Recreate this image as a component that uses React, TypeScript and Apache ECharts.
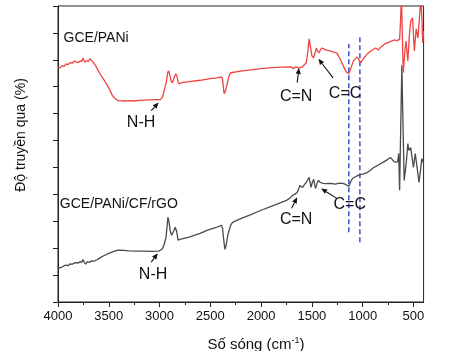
import React, { useEffect, useRef } from 'react';
import * as echarts from 'echarts';

// X axis ticks (cm^-1)
const xTicks = [4000, 3500, 3000, 2500, 2000, 1500, 1000, 500];
const xMinorTicks = [3750, 3250, 2750, 2250, 1750, 1250, 750];

// GCE/PANi spectrum: [wavenumber, transmittance (a.u.)]
const paniWn = [4000, 3980, 3960, 3940, 3920, 3900, 3880, 3860, 3840, 3820, 3800, 3780, 3765, 3755, 3745, 3735, 3718, 3700, 3690, 3682, 3670, 3650, 3630, 3618, 3590, 3555, 3530, 3500, 3480, 3464, 3440, 3409, 3350, 3300, 3250, 3200, 3150, 3100, 3050, 2990, 2970, 2955, 2935, 2918, 2909, 2900, 2885, 2873, 2855, 2840, 2830, 2815, 2809, 2780, 2709, 2600, 2500, 2436, 2391, 2380, 2373, 2364, 2355, 2345, 2320, 2300, 2200, 2100, 2000, 1918, 1800, 1709, 1690, 1682, 1670, 1655, 1640, 1618, 1590, 1555, 1540, 1527, 1515, 1500, 1482, 1465, 1455, 1440, 1427, 1415, 1400, 1360, 1318, 1280, 1255, 1227, 1200, 1182, 1160, 1136, 1115, 1091, 1055, 1035, 1018, 990, 955, 920, 873, 845, 820, 782, 740, 700, 682, 660, 645, 636, 625, 618, 610, 600, 585, 573, 555, 540, 527, 509, 491, 473, 455, 440, 427, 415, 409, 400];
const paniT = [8.72, 8.70, 8.78, 8.76, 8.85, 8.82, 8.90, 8.87, 8.95, 8.92, 8.90, 8.96, 8.93, 9.07, 8.98, 8.92, 8.96, 8.94, 9.02, 9.04, 8.98, 8.89, 8.78, 8.70, 8.50, 8.30, 8.15, 7.95, 7.80, 7.67, 7.57, 7.48, 7.47, 7.48, 7.47, 7.49, 7.50, 7.51, 7.52, 7.52, 7.62, 7.85, 8.15, 8.55, 8.59, 8.45, 8.20, 8.15, 8.35, 8.48, 8.40, 8.15, 8.11, 8.15, 8.19, 8.24, 8.30, 8.33, 8.37, 8.30, 8.04, 7.74, 7.80, 7.93, 8.35, 8.52, 8.58, 8.63, 8.67, 8.70, 8.73, 8.74, 8.70, 8.67, 8.72, 8.74, 8.70, 8.70, 8.75, 8.89, 9.30, 9.78, 9.50, 9.15, 9.07, 9.30, 9.44, 9.30, 9.26, 9.38, 9.44, 9.36, 9.33, 9.28, 9.26, 9.07, 8.85, 8.70, 8.55, 8.48, 8.70, 8.96, 9.11, 9.00, 8.89, 9.05, 9.22, 9.33, 9.44, 9.37, 9.48, 9.59, 9.66, 9.72, 9.74, 9.70, 9.76, 9.74, 10.6, 11.5, 10.0, 8.52, 9.30, 9.70, 8.96, 9.90, 10.44, 10.56, 9.33, 10.15, 9.81, 10.6, 11.3, 10.4, 9.63, 10.07];

// GCE/PANi/CF/rGO spectrum
const rgoWn = [4000, 3980, 3960, 3940, 3918, 3900, 3880, 3860, 3845, 3820, 3800, 3780, 3765, 3755, 3745, 3735, 3727, 3710, 3690, 3670, 3645, 3620, 3591, 3550, 3500, 3450, 3409, 3350, 3300, 3227, 3150, 3080, 3009, 2980, 2964, 2950, 2936, 2925, 2918, 2908, 2895, 2882, 2865, 2845, 2830, 2818, 2800, 2709, 2600, 2527, 2450, 2391, 2380, 2373, 2360, 2355, 2345, 2327, 2300, 2282, 2200, 2100, 2000, 1900, 1800, 1750, 1720, 1691, 1670, 1645, 1630, 1618, 1600, 1591, 1570, 1555, 1540, 1527, 1515, 1509, 1495, 1482, 1472, 1464, 1450, 1436, 1420, 1391, 1360, 1318, 1270, 1230, 1191, 1160, 1136, 1120, 1100, 1060, 1018, 990, 955, 930, 891, 850, 800, 760, 727, 710, 691, 670, 655, 645, 636, 625, 614, 605, 591, 570, 555, 545, 527, 500, 482, 464, 445, 430, 418, 400];
const rgoT = [1.22, 1.28, 1.30, 1.35, 1.37, 1.35, 1.42, 1.40, 1.44, 1.46, 1.45, 1.50, 1.48, 1.58, 1.50, 1.44, 1.41, 1.50, 1.47, 1.53, 1.52, 1.56, 1.63, 1.72, 1.81, 1.88, 1.93, 1.92, 1.90, 1.89, 1.89, 1.88, 1.89, 1.95, 2.04, 2.20, 2.41, 2.85, 3.15, 3.00, 2.65, 2.48, 2.60, 2.78, 2.60, 2.30, 2.33, 2.41, 2.55, 2.67, 2.76, 2.85, 2.75, 2.48, 2.05, 1.96, 2.10, 2.50, 2.85, 2.96, 3.10, 3.25, 3.41, 3.55, 3.70, 3.78, 3.85, 3.96, 4.00, 4.07, 4.20, 4.33, 4.28, 4.26, 4.38, 4.44, 4.55, 4.63, 4.40, 4.26, 4.45, 4.56, 4.35, 4.22, 4.40, 4.52, 4.45, 4.41, 4.40, 4.41, 4.38, 4.42, 4.41, 4.35, 4.30, 4.45, 4.59, 4.68, 4.74, 4.76, 4.81, 4.88, 5.00, 5.08, 5.19, 5.28, 5.37, 5.30, 5.22, 5.20, 5.22, 5.52, 4.15, 6.50, 8.80, 7.00, 4.52, 5.20, 5.89, 5.63, 5.74, 5.00, 5.52, 5.00, 4.44, 4.90, 5.33, 5.15];

// Blue dashed reference lines: wavenumber and [bottom, top] extent
const refLineWn = [1136, 1027];
const refLineRange = [[2.59, 9.59], [2.22, 9.93]];

// Series labels
const seriesNames = ['GCE/PANi', 'GCE/PANi/CF/rGO'];
const seriesNamePos = [[3945, 9.85], [3982, 3.67]];

// Peak annotations: text, label position, arrow tail, arrow tip
const peakTexts = ['N-H', 'C=N', 'C=C', 'N-H', 'C=N', 'C=C'];
const peakLabelPos = [[3182, 6.70], [1655, 7.67], [1173, 7.78], [3064, 1.07], [1655, 3.11], [1127, 3.67]];
const arrowTail = [[3082, 7.11], [1645, 8.15], [1291, 8.33], [3082, 1.48], [1700, 3.48], [1255, 3.85]];
const arrowTip = [[3009, 7.41], [1627, 8.70], [1436, 9.04], [3018, 1.81], [1645, 3.89], [1409, 4.22]];

const FONT = '"Liberation Sans", Arial, sans-serif';

export default function App() {
  const ref = useRef<HTMLDivElement>(null);
  useEffect(() => {
    if (!ref.current) return;
    const chart = echarts.init(ref.current, undefined, { renderer: 'svg' });
    const pani = paniWn.map((w, i) => [w, paniT[i]]);
    const rgo = rgoWn.map((w, i) => [w, rgoT[i]]);
    const refSeries = refLineWn.map((w, i) => ({
      type: 'line',
      data: [[w, refLineRange[i][0]], [w, refLineRange[i][1]]],
      symbol: 'none',
      silent: true,
      lineStyle: { color: '#1f2fd6', width: 1.3, type: [5, 3] },
      z: 1,
    }));
    chart.setOption({
      animation: false,
      grid: { left: 58, right: 2, top: 6, bottom: 49, show: true, borderColor: '#222', borderWidth: 1, backgroundColor: 'transparent' },
      xAxis: [
        {
          type: 'value', min: 400, max: 4000, inverse: true, position: 'bottom',
          axisLine: { show: true, lineStyle: { color: '#222', width: 1 } },
          axisTick: { show: true, inside: false, length: 5, customValues: xTicks, lineStyle: { color: '#222' } },
          axisLabel: { show: true, customValues: xTicks, formatter: (v: number) => String(v), fontSize: 13, color: '#111', fontFamily: FONT, margin: 7 },
          splitLine: { show: false },
        },
        {
          type: 'value', min: 400, max: 4000, inverse: true, position: 'bottom', gridIndex: 0,
          axisLine: { show: false },
          axisTick: { show: true, inside: false, length: 3, customValues: xMinorTicks, lineStyle: { color: '#222' } },
          axisLabel: { show: false },
          splitLine: { show: false },
        },
      ],
      yAxis: {
        type: 'value', min: 0, max: 11, interval: 1,
        axisLine: { show: true, lineStyle: { color: '#222', width: 1 } },
        axisTick: { show: true, inside: false, length: 5, lineStyle: { color: '#222' } },
        axisLabel: { show: false },
        splitLine: { show: false },
      },
      series: [
        { type: 'line', name: seriesNames[1], data: rgo, symbol: 'none', lineStyle: { color: '#4a4a4a', width: 1.3 }, z: 2 },
        { type: 'line', name: seriesNames[0], data: pani, symbol: 'none', lineStyle: { color: '#f04444', width: 1.3 }, z: 3 },
        ...refSeries,
      ],
    });

    const px = (p: number[]) => chart.convertToPixel({ seriesIndex: 0 }, p) as number[];
    const graphics: any[] = [];
    seriesNames.forEach((name, i) => {
      const p = px(seriesNamePos[i]);
      graphics.push({ type: 'text', x: p[0], y: p[1], z: 10, style: { text: name, fontSize: 14, fontFamily: FONT, fill: '#111', textAlign: 'left', textVerticalAlign: 'middle' } });
    });
    peakTexts.forEach((t, i) => {
      const p = px(peakLabelPos[i]);
      graphics.push({ type: 'text', x: p[0], y: p[1], z: 10, style: { text: t, fontSize: 16, fontFamily: FONT, fill: '#111', textAlign: 'center', textVerticalAlign: 'middle' } });
      const a = px(arrowTail[i]);
      const b = px(arrowTip[i]);
      const dx = b[0] - a[0], dy = b[1] - a[1];
      const len = Math.sqrt(dx * dx + dy * dy) || 1;
      const ux = dx / len, uy = dy / len;
      const hl = 6, hw = 2.6;
      const bx = b[0] - ux * hl, by = b[1] - uy * hl;
      graphics.push({ type: 'line', z: 10, shape: { x1: a[0], y1: a[1], x2: bx, y2: by }, style: { stroke: '#111', lineWidth: 1.1 } });
      graphics.push({ type: 'polygon', z: 10, shape: { points: [[b[0], b[1]], [bx - uy * hw, by + ux * hw], [bx + uy * hw, by - ux * hw]] }, style: { fill: '#111' } });
    });
    graphics.push({
      type: 'text', x: 256, y: 343, z: 10,
      style: { text: 'Số sóng (cm{sup|-1})', fontSize: 15, fontFamily: FONT, fill: '#111', textAlign: 'center', textVerticalAlign: 'middle', rich: { sup: { fontSize: 9, fontFamily: FONT, fill: '#111', verticalAlign: 'top', padding: [0, 0, 6, 0] } } },
    });
    graphics.push({
      type: 'text', x: 20, y: 135, rotation: Math.PI / 2, z: 10,
      style: { text: 'Độ truyền qua (%)', fontSize: 14, fontFamily: FONT, fill: '#111', textAlign: 'center', textVerticalAlign: 'middle' },
    });
    chart.setOption({ graphic: graphics });
    return () => chart.dispose();
  }, []);
  return <div ref={ref} style={{ position: 'fixed', left: 0, top: 0, width: 456, height: 351 }} />;
}
